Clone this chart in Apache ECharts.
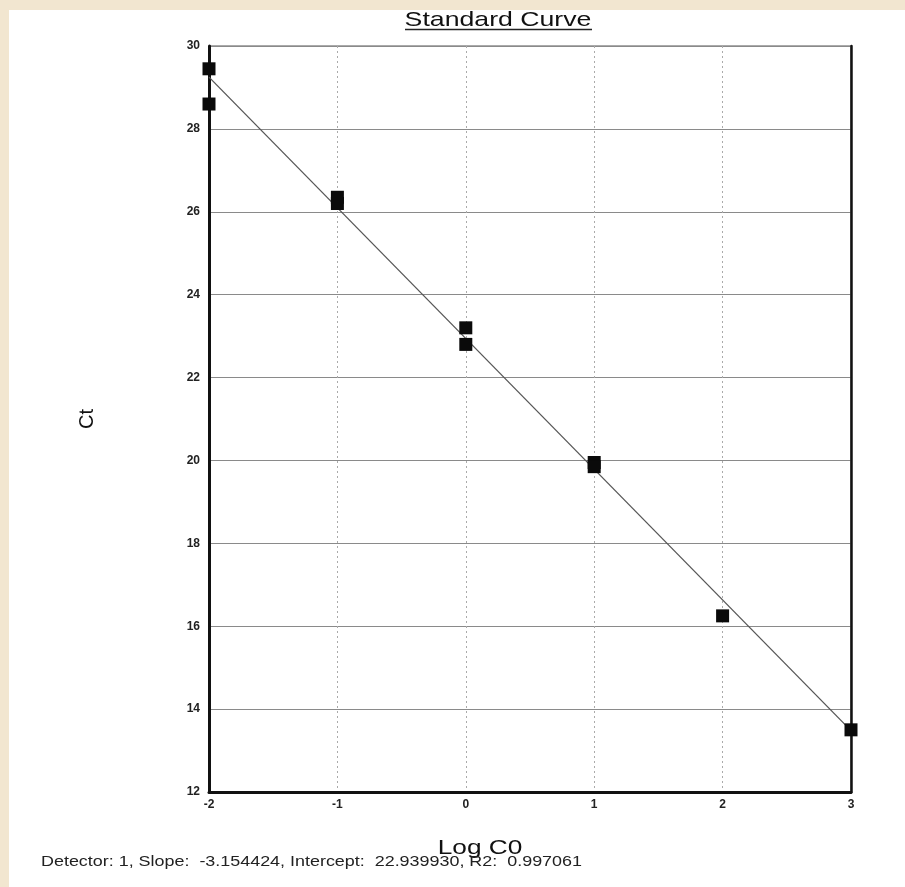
<!DOCTYPE html>
<html>
<head>
<meta charset="utf-8">
<script src="https://cdn.jsdelivr.net/npm/echarts@6/dist/echarts.min.js"></script>
<style>
html,body{margin:0;padding:0;background:#f2e6d0;}
#chart{width:905px;height:887px;}
</style>
</head>
<body>
<div id="chart"></div>
<script>
// Data
var titleText = 'Standard Curve';
var xAxisTitle = 'Log C0';
var yAxisTitle = 'Ct';
var footerText = 'Detector: 1, Slope:  -3.154424, Intercept:  22.939930, R2:  0.997061';
var logC0 = [-2, -2, -1, -1, 0, 0, 1, 1, 2, 3];
var ctValues = [29.45, 28.6, 26.35, 26.2, 23.2, 22.8, 19.95, 19.85, 16.25, 13.5];
var fitX = [-2, 3];
var fitY = [29.25, 13.48];
var xMin = -2, xMax = 3, xStep = 1;
var yMin = 12, yMax = 30, yStep = 2;

var points = logC0.map(function (x, i) { return [x, ctValues[i]]; });
var fitLine = fitX.map(function (x, i) { return [x, fitY[i]]; });

var chart = echarts.init(document.getElementById('chart'), null, {renderer: 'canvas'});
chart.setOption({
  backgroundColor: '#f2e6d0',
  animation: false,
  grid: {left: 209, right: 54, top: 46, bottom: 95, show: true, borderColor: '#555', borderWidth: 1, backgroundColor: 'transparent'},
  graphic: [
    {type: 'rect', z: -10, silent: true, shape: {x: 9, y: 10, width: 896, height: 877}, style: {fill: '#ffffff'}},
    {type: 'text', x: 498, y: 20, scaleX: 1.27, style: {text: titleText, font: '21px "Liberation Sans", Arial, sans-serif', fill: '#111', textAlign: 'center', textVerticalAlign: 'middle'}},
    {type: 'line', shape: {x1: 405, y1: 29.5, x2: 592, y2: 29.5}, style: {stroke: '#222', lineWidth: 1.5}},
    {type: 'text', x: 480, y: 848, scaleX: 1.25, style: {text: xAxisTitle, font: '21px "Liberation Sans", Arial, sans-serif', fill: '#111', textAlign: 'center', textVerticalAlign: 'middle'}},
    {type: 'text', x: 41, y: 862, scaleX: 1.28, style: {text: footerText, font: '14px "Liberation Sans", Arial, sans-serif', fill: '#222', textAlign: 'left', textVerticalAlign: 'middle'}}
  ],
  xAxis: {
    type: 'value', min: xMin, max: xMax, interval: xStep,
    axisLine: {show: true, onZero: false, lineStyle: {color: '#111', width: 3}},
    axisTick: {show: false},
    axisLabel: {color: '#222', fontSize: 12, fontWeight: 'bold', margin: 7, fontFamily: 'Liberation Sans'},
    splitLine: {show: true, lineStyle: {color: '#aaa', width: 1, type: [2, 3]}}
  },
  yAxis: [{
    type: 'value', min: yMin, max: yMax, interval: yStep,
    name: yAxisTitle, nameLocation: 'middle', nameGap: 112, nameRotate: 90,
    nameTextStyle: {fontSize: 20, color: '#111', fontFamily: 'Liberation Sans'},
    axisLine: {show: true, onZero: false, lineStyle: {color: '#111', width: 3}},
    axisTick: {show: false},
    axisLabel: {color: '#222', fontSize: 12, fontWeight: 'bold', margin: 9, fontFamily: 'Liberation Sans'},
    splitLine: {show: true, lineStyle: {color: '#8a8a8a', width: 1}}
  }, {
    type: 'value', min: yMin, max: yMax, interval: yStep, position: 'right',
    axisLine: {show: true, onZero: false, lineStyle: {color: '#111', width: 2.5}},
    axisTick: {show: false}, axisLabel: {show: false}, splitLine: {show: false}
  }],
  series: [{
    type: 'line', data: fitLine, symbol: 'none', z: 2,
    lineStyle: {color: '#555', width: 1.3}
  }, {
    type: 'scatter', data: points, symbol: 'rect', symbolSize: [13, 13], z: 3,
    itemStyle: {color: '#0a0a0a', opacity: 1}
  }]
});
</script>
</body>
</html>
